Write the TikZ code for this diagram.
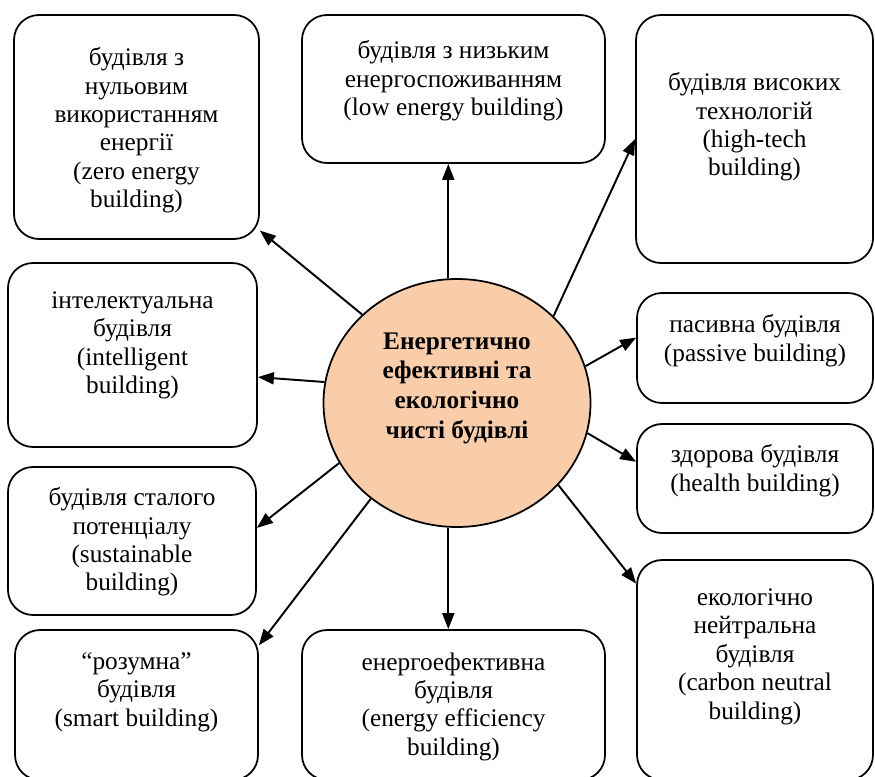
\documentclass[tikz,border=0pt]{standalone}
\usepackage{fontspec}
\setmainfont{Liberation Serif}
\usepackage{tikz}
\usepackage{xcolor}
\usetikzlibrary{arrows.meta,shapes.geometric,positioning}
\definecolor{peach}{RGB}{249,204,170}

\begin{document}
\begin{tikzpicture}[>={Triangle[length=0.32cm,width=0.24cm]},
box/.style={draw,line width=1pt,rounded corners=0.5cm,inner sep=0pt},
txt/.style={align=center,inner sep=0pt,font=\fontsize{14.4}{16.2}\selectfont}]
\useasboundingbox (0,0) rectangle (17.5,15.52);
\node[ellipse,draw,line width=1pt,fill=peach,minimum width=5.34cm,minimum height=4.96cm](c)at(9.14,7.46){};
\node[txt,font=\fontsize{14.4}{16.9}\selectfont\bfseries](ct)at(9.14,7.76){Енергетично\\ефективні та\\екологічно\\чисті будівлі};
\node[box,minimum width=4.90cm,minimum height=4.48cm](zeb)at(2.73,12.98){};
\node[box,minimum width=6.06cm,minimum height=2.96cm](lowb)at(9.07,13.74){};
\node[box,minimum width=4.74cm,minimum height=4.96cm](htb)at(15.09,12.74){};
\node[box,minimum width=4.98cm,minimum height=3.68cm](intb)at(2.65,8.42){};
\node[box,minimum width=4.72cm,minimum height=2.20cm](pasb)at(15.10,8.56){};
\node[box,minimum width=4.72cm,minimum height=2.18cm](hlb)at(15.10,5.95){};
\node[box,minimum width=4.96cm,minimum height=2.96cm](susb)at(2.64,4.70){};
\node[box,minimum width=4.86cm,minimum height=3.00cm](smb)at(2.73,1.42){};
\node[box,minimum width=6.06cm,minimum height=3.00cm](eeb)at(9.07,1.42){};
\node[box,minimum width=4.72cm,minimum height=4.40cm](cnb)at(15.10,2.12){};
\node[txt,below=0.66cm of zeb.north](zebt){будівля з\\нульовим\\використанням\\енергії\\(zero energy\\building)};
\node[txt,below=0.52cm of lowb.north](lowbt){будівля з низьким\\енергоспоживанням\\(low energy building)};
\node[txt,below=1.16cm of htb.north](htbt){будівля високих\\технологій\\(high-tech\\building)};
\node[txt,below=0.58cm of intb.north](intbt){інтелектуальна\\будівля\\(intelligent\\building)};
\node[txt,below=0.44cm of pasb.north](pasbt){пасивна будівля\\(passive building)};
\node[txt,below=0.42cm of hlb.north](hlbt){здорова будівля\\(health building)};
\node[txt,below=0.42cm of susb.north](susbt){будівля сталого\\потенціалу\\(sustainable\\building)};
\node[txt,below=0.46cm of smb.north](smbt){“розумна”\\будівля\\(smart building)};
\node[txt,below=0.46cm of eeb.north](eebt){енергоефективна\\будівля\\(energy efficiency\\building)};
\node[txt,below=0.58cm of cnb.north](cnbt){екологічно\\нейтральна\\будівля\\(carbon neutral\\building)};
\draw[->,line width=1.1pt](c.137)--(zeb.-40);
\draw[->,line width=1.1pt](c.94)--(c.94|-lowb.south);
\draw[->,line width=1.1pt](c.42)--(htb.west);
\draw[->,line width=1.1pt](c.171)--(intb.-10);
\draw[->,line width=1.1pt](c.16)--(pasb.175);
\draw[->,line width=1.1pt](c.-13)--(hlb.172);
\draw[->,line width=1.1pt](c.207)--(susb.6);
\draw[->,line width=1.1pt](c.228)--(smb.26);
\draw[->,line width=1.1pt](c.266)--(c.266|-eeb.north);
\draw[->,line width=1.1pt](c.-39)--(cnb.144);
\end{tikzpicture}
\end{document}
